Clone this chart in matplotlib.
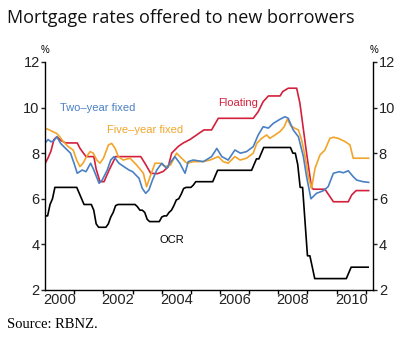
import matplotlib
matplotlib.use("Agg")
import matplotlib.pyplot as plt
import numpy as np

# OCR, monthly from Jan 2000 to Feb 2011
ocr = [5.25, 5.25, 5.75, 6.0, 6.5, 6.5, 6.5, 6.5, 6.5, 6.5, 6.5, 6.5,          # 2000
       6.5, 6.5, 6.25, 6.0, 5.75, 5.75, 5.75, 5.75, 5.5, 4.9, 4.75, 4.75,      # 2001
       4.75, 4.75, 4.9, 5.2, 5.4, 5.7, 5.75, 5.75, 5.75, 5.75, 5.75, 5.75,     # 2002
       5.75, 5.75, 5.65, 5.5, 5.5, 5.4, 5.1, 5.0, 5.0, 5.0, 5.0, 5.0,          # 2003
       5.2, 5.25, 5.25, 5.4, 5.5, 5.7, 5.95, 6.0, 6.2, 6.45, 6.5, 6.5,         # 2004
       6.5, 6.6, 6.75, 6.75, 6.75, 6.75, 6.75, 6.75, 6.75, 6.75, 7.0, 7.25,    # 2005
       7.25, 7.25, 7.25, 7.25, 7.25, 7.25, 7.25, 7.25, 7.25, 7.25, 7.25, 7.25, # 2006
       7.25, 7.25, 7.5, 7.75, 7.75, 8.0, 8.25, 8.25, 8.25, 8.25, 8.25, 8.25,   # 2007
       8.25, 8.25, 8.25, 8.25, 8.25, 8.25, 8.0, 8.0, 7.5, 6.5, 6.5, 5.0,       # 2008
       3.5, 3.5, 3.0, 2.5, 2.5, 2.5, 2.5, 2.5, 2.5, 2.5, 2.5, 2.5,             # 2009
       2.5, 2.5, 2.5, 2.5, 2.5, 2.75, 3.0, 3.0, 3.0, 3.0, 3.0, 3.0,            # 2010
       3.0, 3.0]                                                               # 2011
ocr_t = 2000 + np.arange(len(ocr)) / 12

floating_t = [2000.0, 2000.1, 2000.2, 2000.3, 2000.4, 2000.55, 2000.7, 2001.1, 2001.2, 2001.4,
              2001.67, 2001.75, 2001.88, 2002.02, 2002.19, 2002.42, 2003.28, 2003.45, 2003.62, 2003.85,
              2004.05, 2004.22, 2004.34, 2004.57, 2004.74, 2004.97, 2005.31, 2005.45, 2005.71, 2005.94,
              2007.14, 2007.31, 2007.48, 2007.66, 2008.06, 2008.15, 2008.34, 2008.63, 2008.74, 2008.97,
              2009.14, 2009.2, 2009.6, 2009.89, 2010.4, 2010.52, 2010.67, 2011.1]
floating = [7.55, 7.8, 8.1, 8.6, 8.72, 8.55, 8.45, 8.45, 8.2, 7.85,
            7.85, 7.3, 6.75, 6.75, 7.25, 7.85, 7.85, 7.5, 7.12, 7.1,
            7.2, 7.4, 8.0, 8.3, 8.45, 8.6, 8.9, 9.02, 9.02, 9.53,
            9.53, 9.82, 10.26, 10.51, 10.51, 10.7, 10.85, 10.85, 10.2, 8.0,
            6.5, 6.42, 6.42, 5.87, 5.87, 6.17, 6.36, 6.36]

two_year_t = [2000.0, 2000.1, 2000.2, 2000.3, 2000.4, 2000.53, 2000.7, 2000.87, 2000.99, 2001.1,
              2001.27, 2001.4, 2001.56, 2001.67, 2001.85, 2001.96, 2002.13, 2002.25, 2002.36, 2002.53,
              2002.7, 2002.88, 2003.0, 2003.22, 2003.33, 2003.45, 2003.56, 2003.68, 2003.83, 2004.0,
              2004.17, 2004.28, 2004.45, 2004.62, 2004.8, 2004.91, 2005.08, 2005.43, 2005.71, 2005.89,
              2006.06, 2006.28, 2006.51, 2006.7, 2006.91, 2007.14, 2007.31, 2007.48, 2007.66, 2007.83,
              2008.06, 2008.23, 2008.34, 2008.51, 2008.69, 2008.86, 2008.97, 2009.12, 2009.31, 2009.54,
              2009.71, 2009.89, 2010.1, 2010.23, 2010.4, 2010.57, 2010.69, 2010.91, 2011.1]
two_year = [8.45, 8.6, 8.5, 8.55, 8.72, 8.43, 8.21, 8.0, 7.56, 7.12,
            7.26, 7.19, 7.56, 7.26, 6.68, 6.83, 7.26, 7.7, 7.85, 7.56,
            7.41, 7.26, 7.19, 6.9, 6.46, 6.24, 6.39, 6.82, 7.26, 7.56,
            7.34, 7.56, 7.85, 7.56, 7.12, 7.63, 7.7, 7.63, 7.85, 8.21,
            7.85, 7.7, 8.14, 8.0, 8.07, 8.29, 8.8, 9.16, 9.1, 9.31,
            9.49, 9.6, 9.53, 9.02, 8.72, 7.85, 6.97, 6.0, 6.24, 6.35,
            6.53, 7.12, 7.19, 7.14, 7.23, 6.97, 6.82, 6.75, 6.72]

five_year_t = [2000.0, 2000.15, 2000.25, 2000.39, 2000.5, 2000.62, 2000.79, 2000.96, 2001.08, 2001.19,
               2001.3, 2001.42, 2001.54, 2001.65, 2001.77, 2001.88, 2002.0, 2002.17, 2002.28, 2002.4,
               2002.51, 2002.68, 2002.91, 2003.14, 2003.37, 2003.48, 2003.6, 2003.77, 2003.94, 2004.11,
               2004.3, 2004.51, 2004.68, 2004.86, 2005.1, 2005.4, 2005.66, 2005.94, 2006.11, 2006.28,
               2006.51, 2006.69, 2006.91, 2007.14, 2007.26, 2007.43, 2007.6, 2007.71, 2007.89, 2008.06,
               2008.2, 2008.31, 2008.43, 2008.57, 2008.69, 2008.8, 2008.92, 2009.03, 2009.14, 2009.26,
               2009.43, 2009.6, 2009.77, 2009.89, 2010.06, 2010.29, 2010.46, 2010.57, 2011.1]
five_year = [9.09, 9.02, 8.95, 8.87, 8.72, 8.51, 8.29, 8.14, 7.7, 7.41,
             7.56, 7.85, 8.07, 8.0, 7.7, 7.56, 7.78, 8.36, 8.43, 8.21,
             7.85, 7.7, 7.78, 7.48, 7.12, 6.53, 6.97, 7.56, 7.56, 7.41,
             7.48, 8.0, 7.78, 7.56, 7.63, 7.63, 7.7, 7.85, 7.63, 7.56,
             7.85, 7.7, 7.78, 8.0, 8.43, 8.65, 8.8, 8.65, 8.8, 8.95,
             9.16, 9.49, 9.2, 9.09, 9.02, 8.58, 7.85, 6.97, 6.45, 7.34,
             7.92, 8.14, 8.65, 8.7, 8.65, 8.51, 8.36, 7.78, 7.78]

years = np.arange(2000, 2012)
label_years = np.arange(2000, 2011, 2)
yticks = [2, 4, 6, 8, 10, 12]

c_blue = "#4a80c4"
c_orange = "#f2a52a"
c_red = "#d3203c"

fig = plt.figure(figsize=(4.13, 3.44), dpi=100)
ax = fig.add_axes([0.1094, 0.157, 0.7945, 0.6628])

ax.plot(ocr_t, ocr, color="black", lw=1.2)
ax.plot(floating_t, floating, color=c_red, lw=1.2)
ax.plot(five_year_t, five_year, color=c_orange, lw=1.2)
ax.plot(two_year_t, two_year, color=c_blue, lw=1.2)

ax.set_xlim(2000.0, 2011.26)
ax.set_ylim(2, 12)

for s in ["left", "right", "bottom"]:
    ax.spines[s].set_linewidth(1.0)
ax.spines["top"].set_visible(False)

tickfont = {"family": "Liberation Sans", "size": 10.5}
ax.set_yticks(yticks)
ax.set_yticklabels([str(v) for v in yticks], fontdict=tickfont)
ax.tick_params(axis="y", left=True, right=True, labelleft=True, labelright=True,
               direction="out", length=3, width=1, pad=1, colors="#222222")

ax.set_xticks(years[1:])
ax.set_xticklabels([])
ax.set_xticks(label_years + 0.5, minor=True)
ax.set_xticklabels([str(y) for y in label_years], minor=True, fontdict=tickfont)
ax.tick_params(axis="x", which="major", direction="out", length=3, width=1)
ax.tick_params(axis="x", which="minor", length=0, pad=2, colors="#222222")

ax.annotate("%", xy=(0, 1), xycoords="axes fraction", xytext=(0, 7), textcoords="offset pixels",
            ha="center", va="bottom", fontsize=7, family="Liberation Sans")
ax.annotate("%", xy=(1, 1), xycoords="axes fraction", xytext=(1, 7), textcoords="offset pixels",
            ha="center", va="bottom", fontsize=7, family="Liberation Sans")

lab = {"family": "Liberation Sans", "size": 8}
ax.text(2000.5, 9.98, "Two\u2013year fixed", color=c_blue, va="center", ha="left", **lab)
ax.text(2002.13, 9.0, "Five\u2013year fixed", color=c_orange, va="center", ha="left", **lab)
ax.text(2005.92, 10.2, "Floating", color=c_red, va="center", ha="left", **lab)
ax.text(2003.94, 4.2, "OCR", color="black", va="center", ha="left", **lab)

fig.text(7 / 413, 1 - 18 / 344, "Mortgage rates offered to new borrowers", ha="left", va="center",
         fontsize=13, family="Open Sans", color="#111111")
fig.text(7 / 413, 1 - 325 / 344, "Source: RBNZ.", ha="left", va="center",
         fontsize=10.5, family="Liberation Serif")

fig.savefig("out.png", dpi=100)
